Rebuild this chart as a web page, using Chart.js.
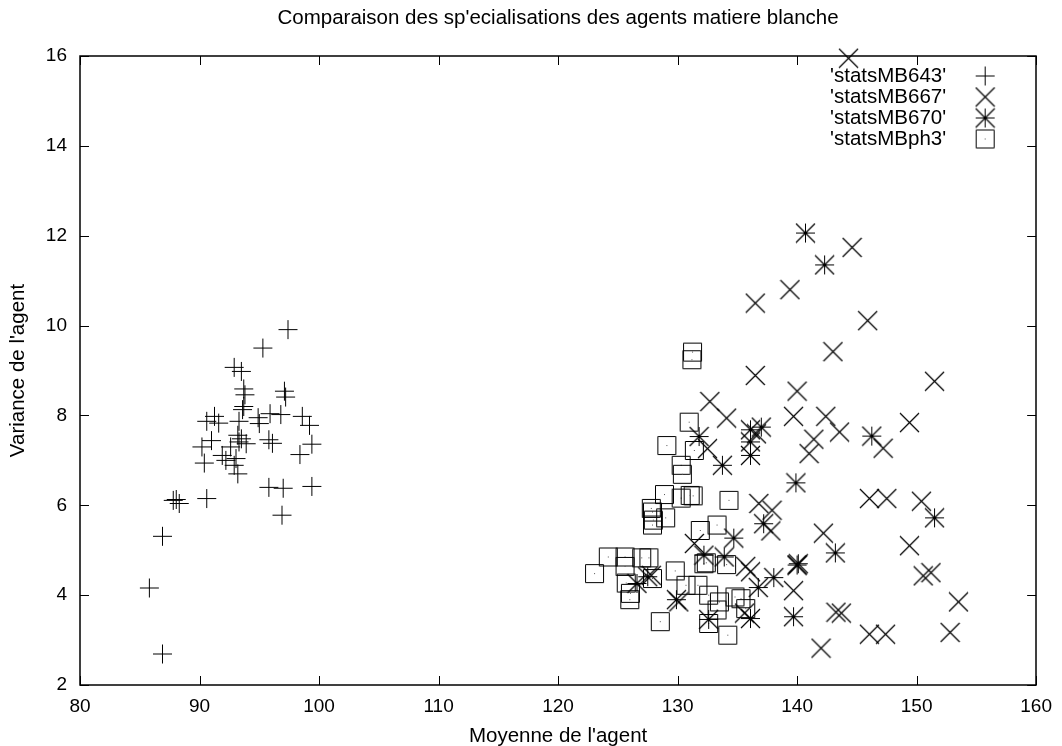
<!DOCTYPE html>
<html>
<head>
<meta charset="utf-8">
<script src="https://cdn.jsdelivr.net/npm/chart.js@4/dist/chart.umd.min.js"></script>
<style>
  html, body { margin: 0; padding: 0; background: #fff; }
</style>
</head>
<body>
<canvas id="chart" width="1062" height="746"></canvas>
<script>
// --- data ---
const seriesNames = ["'statsMB643'", "'statsMB667'", "'statsMB670'", "'statsMBph3'"];
const chartTitle = "Comparaison des sp'ecialisations des agents matiere blanche";

const x643 = [85.8, 86.9, 86.9, 87.8, 88.05, 88.3, 90.6, 90.4, 90.2, 91.0, 90.6, 91.25, 91.6, 91.9, 92.2, 92.6,
  92.9, 93.05, 93.2, 93.3, 93.2, 93.5, 93.9, 93.3, 92.9, 93.5, 93.7, 93.8, 93.7, 93.6, 95.3, 97.4,
  97.1, 97.2, 94.9, 95.0, 95.9, 96.8, 98.6, 99.2, 99.4, 98.4, 95.8, 96.1, 95.8, 97.0, 96.9, 99.4];
const y643 = [4.16, 2.69, 5.31, 6.11, 6.13, 6.04, 6.15, 6.94, 7.3, 7.44, 7.87, 7.98, 7.83, 7.11, 7.0, 7.3,
  6.89, 7.04, 6.7, 7.41, 7.56, 7.48, 7.37, 7.87, 9.07, 8.98, 8.59, 8.46, 8.2, 8.13, 9.5, 9.91,
  8.54, 8.41, 7.95, 7.82, 8.04, 8.02, 7.98, 7.78, 7.36, 7.13, 7.46, 7.38, 6.4, 6.38, 5.78, 6.42];

const x667 = [144.3, 144.6, 139.4, 136.5, 145.9, 143.0, 136.5, 140.0, 151.5, 132.7, 134.1, 139.7, 142.4, 143.55,
  141.4, 141.0, 147.2, 149.4, 136.6, 132.5, 146.05, 147.5, 150.4, 136.8, 137.9, 137.8, 142.2, 131.4,
  149.4, 135.7, 136.1, 139.7, 140.0, 127.8, 150.55, 151.2, 153.5, 152.8, 146.05, 147.4, 143.25, 143.7,
  142.0, 130.1, 135.6];
const y667 = [15.95, 11.74, 10.8, 10.5, 10.11, 9.42, 8.89, 8.54, 8.76, 8.31, 7.94, 7.98, 7.98, 7.63,
  7.47, 7.15, 7.27, 7.84, 7.59, 7.26, 6.15, 6.15, 6.09, 6.04, 5.89, 5.43, 5.38, 5.15,
  5.1, 4.64, 4.52, 4.1, 4.67, 4.44, 4.43, 4.5, 3.85, 3.17, 3.13, 3.13, 3.62, 3.6,
  2.82, 3.85, 3.6];

const x670 = [140.7, 142.3, 136.1, 137.0, 136.1, 136.1, 131.8, 146.25, 133.75, 139.9, 137.2, 151.5, 143.2,
  134.7, 133.9, 132.2, 138.05, 136.75, 140.0, 140.1, 139.7, 136.1, 132.6, 126.6, 127.5, 129.9];
const y670 = [12.06, 11.35, 7.68, 7.74, 7.41, 7.11, 7.53, 7.54, 6.89, 6.5, 5.59, 5.72, 4.94,
  5.27, 4.85, 4.89, 4.39, 4.17, 4.67, 4.7, 3.52, 3.48, 3.46, 4.26, 4.41, 3.9];

const xph3 = [131.25, 131.2, 130.97, 129.1, 131.4, 130.3, 130.4, 128.9, 130.3, 131.05, 131.3, 127.8, 127.9,
  127.97, 127.9, 129.0, 131.9, 133.3, 134.3, 124.2, 123.05, 125.6, 125.6, 127.0, 127.6, 125.7, 126.05,
  126.0, 127.9, 129.8, 130.7, 131.7, 132.2, 132.4, 134.1, 132.6, 133.5, 133.3, 128.55, 134.8, 135.3,
  135.7, 132.6, 134.2];
const yph3 = [9.41, 9.24, 7.85, 7.33, 7.22, 6.89, 6.69, 6.24, 6.16, 6.22, 6.21, 5.93, 5.85,
  5.67, 5.56, 5.72, 5.44, 5.56, 6.11, 4.85, 4.48, 4.85, 4.64, 4.83, 4.83, 4.27, 4.04,
  3.9, 4.37, 4.54, 4.22, 4.22, 4.7, 4.72, 4.68, 4.0, 3.85, 3.67, 3.41, 3.96, 3.92,
  3.7, 3.37, 3.11];

const xTicks = [80, 90, 100, 110, 120, 130, 140, 150, 160];
const yTicks = [2, 4, 6, 8, 10, 12, 14, 16];

const FONT = 'Liberation Sans, Arial, Helvetica, sans-serif';
const TEXT_SIZE = 20.5;
const TICK_SIZE = 19;

// gnuplot-like point symbols
function makeMarker(kind) {
    const c = document.createElement('canvas');
    c.width = 21;
    c.height = 21;
    const g = c.getContext('2d');
    g.strokeStyle = '#000';
    g.lineWidth = 1;
    g.beginPath();
    if (kind === 'plus' || kind === 'star') {
        g.moveTo(1, 10.5); g.lineTo(20, 10.5);
        g.moveTo(10.5, 1); g.lineTo(10.5, 20);
    }
    if (kind === 'box') {
        g.rect(1.5, 1.5, 18, 18);
    }
    g.stroke();
    if (kind === 'cross' || kind === 'star') {
        g.lineWidth = 1.2;
        g.beginPath();
        g.moveTo(1, 1); g.lineTo(20, 20);
        g.moveTo(20, 1); g.lineTo(1, 20);
        g.stroke();
    }
    if (kind === 'box') {
        g.fillStyle = '#555';
        g.fillRect(10, 10, 1, 1);
    }
    return c;
}

const markers = [makeMarker('plus'), makeMarker('cross'), makeMarker('star'), makeMarker('box')];

function toPoints(xs, ys) {
    return xs.map((x, i) => ({ x: x, y: ys[i] }));
}

const allX = [x643, x667, x670, xph3];
const allY = [y643, y667, y670, yph3];

const datasets = seriesNames.map((name, i) => ({
    label: name,
    data: toPoints(allX[i], allY[i]),
    pointStyle: markers[i],
    pointRadius: 10,
    clip: false
}));

// border box with inward ticks on all four sides, title centred over the plot
const framePlugin = {
    id: 'frame',
    beforeDatasetsDraw(chart) {
        const { ctx, chartArea: a, scales } = chart;
        const len = 9;
        ctx.save();
        ctx.strokeStyle = '#000';
        ctx.lineWidth = 1;
        ctx.beginPath();
        xTicks.forEach(v => {
            const px = Math.round(scales.x.getPixelForValue(v)) + 0.5;
            ctx.moveTo(px, a.bottom); ctx.lineTo(px, a.bottom - len);
            ctx.moveTo(px, a.top); ctx.lineTo(px, a.top + len);
        });
        yTicks.forEach(v => {
            const py = Math.round(scales.y.getPixelForValue(v)) + 0.5;
            ctx.moveTo(a.left, py); ctx.lineTo(a.left + len, py);
            ctx.moveTo(a.right, py); ctx.lineTo(a.right - len, py);
        });
        ctx.stroke();
        ctx.lineWidth = 1.5;
        ctx.strokeRect(Math.round(a.left), Math.round(a.top),
            Math.round(a.right) - Math.round(a.left), Math.round(a.bottom) - Math.round(a.top));

        ctx.font = TEXT_SIZE + 'px ' + FONT;
        ctx.fillStyle = '#000';
        ctx.textAlign = 'center';
        ctx.textBaseline = 'middle';
        ctx.fillText(chartTitle, (a.left + a.right) / 2, 18);
        ctx.restore();
    }
};

// key in the upper right corner, text right-aligned left of the symbol
const keyPlugin = {
    id: 'key',
    afterDraw(chart) {
        const { ctx, chartArea: a } = chart;
        ctx.save();
        ctx.font = TEXT_SIZE + 'px ' + FONT;
        ctx.fillStyle = '#000';
        ctx.textAlign = 'right';
        ctx.textBaseline = 'middle';
        seriesNames.forEach((name, i) => {
            const y = a.top + 20 + i * 21;
            ctx.fillText(name, a.right - 90, y);
            const m = markers[i];
            ctx.drawImage(m, a.right - 51 - m.width / 2, y - m.height / 2);
        });
        ctx.restore();
    }
};

const tickFont = { family: FONT, size: TICK_SIZE };
const labelFont = { family: FONT, size: TEXT_SIZE };

new Chart(document.getElementById('chart').getContext('2d'), {
    type: 'scatter',
    data: { datasets: datasets },
    options: {
        responsive: false,
        animation: false,
        events: [],
        layout: { padding: { left: 0, right: 24, top: 56, bottom: 0 } },
        plugins: {
            legend: { display: false },
            tooltip: { enabled: false },
            title: { display: false }
        },
        scales: {
            x: {
                type: 'linear',
                min: 80,
                max: 160,
                afterBuildTicks: s => { s.ticks = xTicks.map(v => ({ value: v })); },
                ticks: { color: '#000', font: tickFont, padding: 10 },
                grid: { display: false, drawTicks: false },
                border: { display: false },
                title: {
                    display: true,
                    text: "Moyenne de l'agent",
                    color: '#000',
                    font: labelFont,
                    padding: { top: 0, bottom: -3 }
                },
                afterFit: s => { s.height = 61; }
            },
            y: {
                type: 'linear',
                min: 2,
                max: 16,
                afterBuildTicks: s => { s.ticks = yTicks.map(v => ({ value: v })); },
                ticks: { color: '#000', font: tickFont, padding: 13 },
                grid: { display: false, drawTicks: false },
                border: { display: false },
                title: {
                    display: true,
                    text: "Variance de l'agent",
                    color: '#000',
                    font: labelFont,
                    padding: { top: 6, bottom: 0 }
                },
                afterFit: s => { s.width = 80; }
            }
        }
    },
    plugins: [framePlugin, keyPlugin]
});
</script>
</body>
</html>
